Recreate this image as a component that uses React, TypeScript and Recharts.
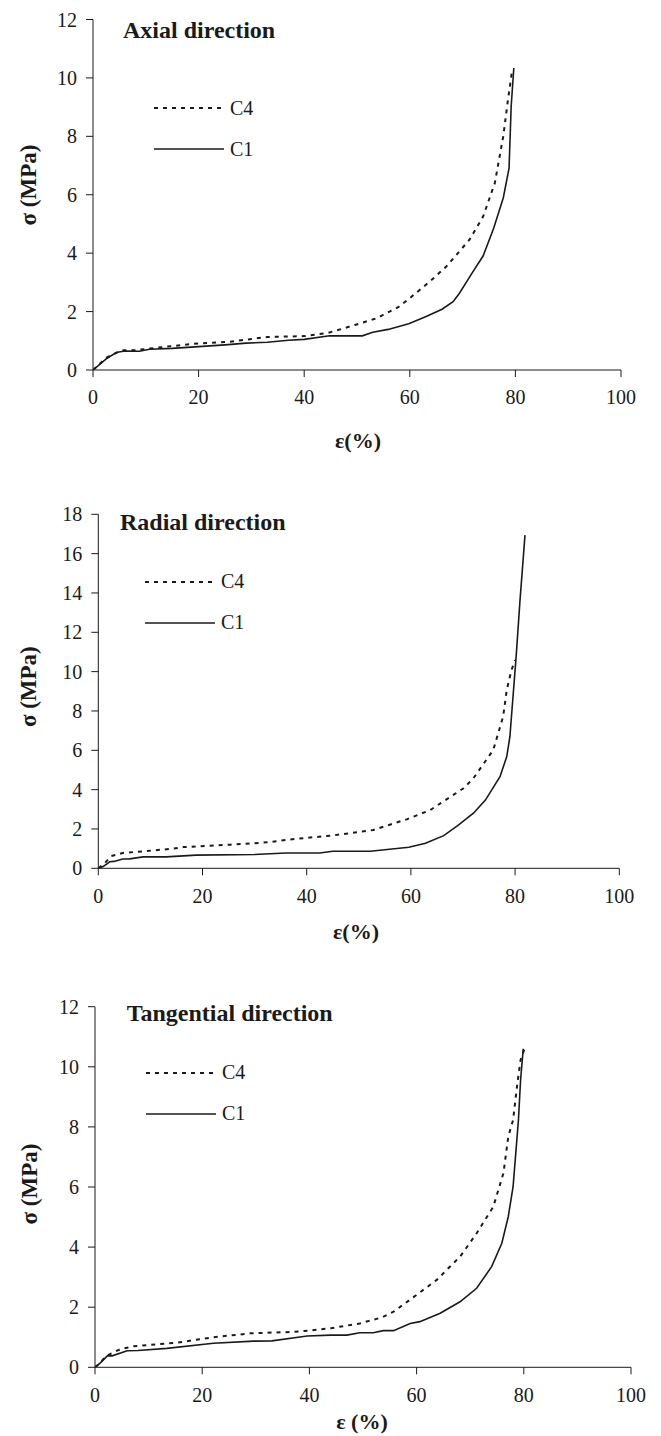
import React from 'react'
import { LineChart, Line, XAxis, YAxis, Legend, Label } from 'recharts'

// strain (%) and stress (MPa)
const STRAIN_TICKS = [0, 20, 40, 60, 80, 100]
const STRESS_TICKS_12 = [0, 2, 4, 6, 8, 10, 12]
const STRESS_TICKS_18 = [0, 2, 4, 6, 8, 10, 12, 14, 16, 18]
const LEGEND_ORDER = ['C4', 'C1']

const AXIAL_C1_X = [0, 1, 2.5, 4.4, 6, 8.8, 10.7, 15, 20, 25, 29, 33, 37, 40, 44.8, 51, 53, 55.9, 59.8, 63.1, 66.1, 68.2, 69.4, 71.7, 73.9, 75.9, 77.7, 78.8, 79.2, 79.7]
const AXIAL_C1_Y = [0, 0.15, 0.38, 0.6, 0.65, 0.64, 0.71, 0.74, 0.8, 0.86, 0.92, 0.95, 1.02, 1.05, 1.17, 1.17, 1.29, 1.39, 1.58, 1.83, 2.08, 2.34, 2.63, 3.29, 3.91, 4.86, 5.89, 6.91, 9.03, 10.34]
const AXIAL_C4_X = [0, 1.2, 2.5, 4, 5.5, 8, 10, 15, 20, 26, 33, 40, 44.5, 49.6, 53.7, 57.8, 60, 63.8, 66.9, 71.3, 73.9, 76.1, 77.7, 78.6, 79.4]
const AXIAL_C4_Y = [0, 0.2, 0.42, 0.55, 0.68, 0.68, 0.72, 0.82, 0.91, 0.97, 1.13, 1.16, 1.27, 1.54, 1.77, 2.15, 2.46, 3.03, 3.54, 4.46, 5.26, 6.4, 8.0, 9.26, 10.28]

const RADIAL_C1_X = [0, 1, 2.2, 3, 4.7, 6, 8.6, 13, 18.8, 30, 36, 42.5, 45, 52.2, 59.6, 62.8, 66.3, 69.1, 72, 74.3, 77.1, 78.4, 79, 79.5, 80.2, 80.9, 81.9]
const RADIAL_C1_Y = [0, 0.1, 0.33, 0.35, 0.47, 0.48, 0.58, 0.58, 0.67, 0.7, 0.78, 0.78, 0.87, 0.87, 1.07, 1.27, 1.66, 2.2, 2.8, 3.47, 4.66, 5.68, 6.69, 8.39, 10.76, 13.47, 16.94]
const RADIAL_C4_X = [0, 1, 2.5, 4.7, 9.3, 14.4, 16.3, 25.3, 33, 36.2, 41.3, 45, 52.8, 59.2, 63.7, 70.1, 72, 75.8, 77.7, 78.4, 79.3, 80]
const RADIAL_C4_Y = [0, 0.2, 0.62, 0.78, 0.88, 1.0, 1.08, 1.2, 1.33, 1.45, 1.58, 1.67, 1.95, 2.49, 2.96, 4.07, 4.58, 6.01, 7.71, 9.07, 10.08, 10.59]

const TANG_C1_X = [0, 1, 2.3, 3.2, 6, 8, 13.4, 22.1, 29.6, 33, 39.6, 44, 47, 49.4, 51.9, 53.8, 55.7, 58.8, 60.6, 64.4, 68.1, 71.2, 74, 75.9, 77.1, 78, 78.5, 79, 79.4, 79.9]
const TANG_C1_Y = [0, 0.15, 0.38, 0.38, 0.55, 0.56, 0.63, 0.8, 0.87, 0.88, 1.04, 1.07, 1.07, 1.15, 1.15, 1.22, 1.22, 1.46, 1.52, 1.8, 2.18, 2.63, 3.35, 4.13, 5.01, 6.01, 7.12, 8.23, 9.56, 10.6]
const TANG_C4_X = [0, 1, 2, 3.5, 4.7, 7.2, 15.3, 22.1, 29, 37.1, 40.9, 44, 49.4, 53.5, 55.7, 60, 63.7, 66.5, 68.1, 71.2, 74.3, 76.2, 77.1, 78, 78.8, 79.4, 80.1]
const TANG_C4_Y = [0, 0.15, 0.37, 0.5, 0.6, 0.7, 0.82, 1.0, 1.13, 1.18, 1.24, 1.3, 1.46, 1.66, 1.85, 2.41, 2.9, 3.4, 3.68, 4.46, 5.34, 6.46, 7.67, 8.23, 9.45, 10.23, 10.58]

const SERIF = '"Liberation Serif", "Times New Roman", serif'
const INK = '#1a1a1a'
const DASH = '4 5'

const pairs = (xs: number[], ys: number[]) => xs.map((x, i) => ({ x, y: ys[i] }))

type Pt = { x: number; y: number }

interface PanelProps {
  top: number
  height: number
  margin: { top: number; right: number; bottom: number; left: number }
  yMax: number
  yTicks: number[]
  title: string
  titleX: number
  titleY: number
  legendX: number
  legendY: number
  xLabel: string
  xLabelX: number
  xLabelY: number
  yLabelX: number
  yLabelY: number
  c1: Pt[]
  c4: Pt[]
}

function LegendBox({ payload }: any) {
  const items = [...(payload || [])].sort(
    (a: any, b: any) => LEGEND_ORDER.indexOf(a.value) - LEGEND_ORDER.indexOf(b.value)
  )
  return (
    <div style={{ fontFamily: SERIF, fontSize: 20, color: INK }}>
      {items.map((p: any) => (
        <div key={p.value} style={{ display: 'flex', alignItems: 'center', height: 41 }}>
          <svg width={70} height={4}>
            <line
              x1={0}
              y1={2}
              x2={70}
              y2={2}
              stroke={INK}
              strokeWidth={p.value === 'C4' ? 2 : 1.6}
              strokeDasharray={p.value === 'C4' ? DASH : undefined}
            />
          </svg>
          <span style={{ marginLeft: 6 }}>{p.value}</span>
        </div>
      ))}
    </div>
  )
}

function Panel(p: PanelProps) {
  const tick = { fill: INK, fontSize: 20, fontFamily: SERIF }
  return (
    <div style={{ position: 'absolute', left: 0, top: p.top }}>
      <LineChart width={661} height={p.height} margin={p.margin}>
        <XAxis
          type="number"
          dataKey="x"
          domain={[0, 100]}
          ticks={STRAIN_TICKS}
          interval={0}
          stroke={INK}
          tick={tick}
          tickSize={7}
          tickMargin={13}
          height={30}
          allowDataOverflow
        >
          <Label
            content={() => (
              <text
                x={p.xLabelX}
                y={p.xLabelY}
                textAnchor="middle"
                dominantBaseline="central"
                fontFamily={SERIF}
                fontWeight="bold"
                fontSize={22}
                fill={INK}
              >
                {p.xLabel}
              </text>
            )}
          />
        </XAxis>
        <YAxis
          type="number"
          dataKey="y"
          domain={[0, p.yMax]}
          ticks={p.yTicks}
          interval={0}
          stroke={INK}
          tick={tick}
          tickSize={7}
          tickMargin={9}
          width={60}
          allowDataOverflow
        >
          <Label
            content={() => (
              <text
                x={p.yLabelX}
                y={p.yLabelY}
                transform={`rotate(-90 ${p.yLabelX} ${p.yLabelY})`}
                textAnchor="middle"
                dominantBaseline="central"
                fontFamily={SERIF}
                fontWeight="bold"
                fontSize={23}
                fill={INK}
              >
                σ (MPa)
              </text>
            )}
          />
          <Label
            content={() => (
              <text
                x={p.titleX}
                y={p.titleY}
                dominantBaseline="central"
                fontFamily={SERIF}
                fontWeight="bold"
                fontSize={24}
                fill={INK}
              >
                {p.title}
              </text>
            )}
          />
        </YAxis>
        <Legend
          layout="horizontal"
          verticalAlign="middle"
          align="center"
          content={LegendBox}
          wrapperStyle={{ left: p.legendX, top: p.legendY, width: 120 }}
        />
        <Line
          name="C4"
          data={p.c4}
          dataKey="y"
          type="linear"
          stroke={INK}
          strokeWidth={2}
          strokeDasharray={DASH}
          dot={false}
          isAnimationActive={false}
        />
        <Line
          name="C1"
          data={p.c1}
          dataKey="y"
          type="linear"
          stroke={INK}
          strokeWidth={1.6}
          dot={false}
          isAnimationActive={false}
        />
      </LineChart>
    </div>
  )
}

export default function App() {
  return (
    <div style={{ position: 'absolute', left: 0, top: 0, width: 661, height: 1436, background: '#fff' }}>
      <Panel
        top={0}
        height={470}
        margin={{ top: 19.5, right: 40, bottom: 70, left: 33 }}
        yMax={12}
        yTicks={STRESS_TICKS_12}
        title="Axial direction"
        titleX={123}
        titleY={30}
        legendX={154}
        legendY={87.5}
        xLabel="ε(%)"
        xLabelX={358}
        xLabelY={440}
        yLabelX={28}
        yLabelY={185}
        c1={pairs(AXIAL_C1_X, AXIAL_C1_Y)}
        c4={pairs(AXIAL_C4_X, AXIAL_C4_Y)}
      />
      <Panel
        top={470}
        height={490}
        margin={{ top: 44.3, right: 41.7, bottom: 61.7, left: 38.3 }}
        yMax={18}
        yTicks={STRESS_TICKS_18}
        title="Radial direction"
        titleX={120}
        titleY={51.7}
        legendX={145}
        legendY={91}
        xLabel="ε(%)"
        xLabelX={356}
        xLabelY={461.7}
        yLabelX={29}
        yLabelY={216.7}
        c1={pairs(RADIAL_C1_X, RADIAL_C1_Y)}
        c4={pairs(RADIAL_C4_X, RADIAL_C4_Y)}
      />
      <Panel
        top={960}
        height={476}
        margin={{ top: 46.7, right: 30, bottom: 38.7, left: 35 }}
        yMax={12}
        yTicks={STRESS_TICKS_12}
        title="Tangential direction"
        titleX={126.7}
        titleY={53}
        legendX={146}
        legendY={92}
        xLabel="ε (%)"
        xLabelX={362}
        xLabelY={461.7}
        yLabelX={29}
        yLabelY={224}
        c1={pairs(TANG_C1_X, TANG_C1_Y)}
        c4={pairs(TANG_C4_X, TANG_C4_Y)}
      />
    </div>
  )
}
